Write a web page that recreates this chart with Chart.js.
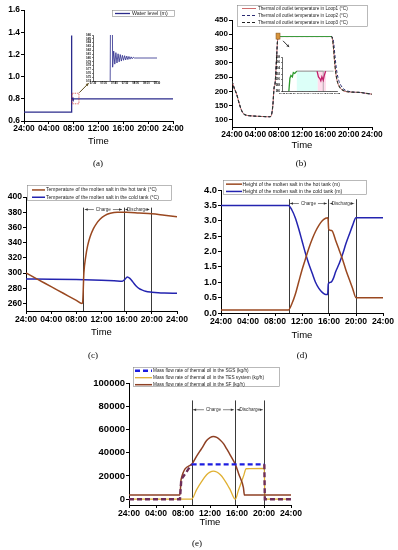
<!DOCTYPE html>
<html><head><meta charset="utf-8">
<script src="https://cdn.jsdelivr.net/npm/chart.js@4.4.0/dist/chart.umd.min.js"></script>
<style>
html,body{margin:0;padding:0;background:#fff;width:398px;height:550px;overflow:hidden;position:relative}
canvas{position:absolute;left:0;top:0}
.cap{position:absolute;font-family:"Liberation Serif","DejaVu Serif",serif;font-size:9px;color:#000;transform:translate(-50%,-50%);white-space:nowrap}
</style></head><body>
<canvas id="ca" width="398" height="550"></canvas>
<canvas id="cb" width="398" height="550"></canvas>
<canvas id="cc" width="398" height="550"></canvas>
<canvas id="cd" width="398" height="550"></canvas>
<canvas id="ce" width="398" height="550"></canvas>
<canvas id="cai" width="398" height="550"></canvas>
<canvas id="cbi" width="398" height="550"></canvas>
<div class="cap" style="left:98px;top:163px">(a)</div>
<div class="cap" style="left:301px;top:163px">(b)</div>
<div class="cap" style="left:93px;top:355px">(c)</div>
<div class="cap" style="left:302px;top:355px">(d)</div>
<div class="cap" style="left:197px;top:543px">(e)</div>
<script>
// ---------------- DATA ----------------
const timeTickValues = [0, 4, 8, 12, 16, 20, 24];
const timeTickLabels = ['24:00', '04:00', '08:00', '12:00', '16:00', '20:00', '24:00'];

// (a) water level
const aSeriesName = 'Water level (m)';
const aHours = [0, 7.6, 7.62, 7.64, 7.657, 7.674, 7.691, 7.708, 7.725, 7.742, 7.759, 7.776, 7.793, 7.81, 7.827, 7.844, 7.861, 7.878, 7.895, 7.912, 7.929, 7.946, 7.963, 7.98, 24];
const aWaterLevel = [0.68, 0.68, 1.37, 0.776, 0.818, 0.784, 0.814, 0.787, 0.811, 0.790, 0.809, 0.792, 0.807, 0.794, 0.806, 0.795, 0.805, 0.796, 0.804, 0.797, 0.803, 0.798, 0.802, 0.80, 0.80];
const aYTicks = [0.6, 0.8, 1.0, 1.2, 1.4, 1.6];
const aInsetXTicks = [7.3333, 7.5, 7.6667, 7.8333, 8.0, 8.1667, 8.3333];
const aInsetXLabels = ['07:20', '07:30', '07:40', '07:50', '08:00', '08:10', '08:20'];
const aInsetYTicks = [0.74, 0.75, 0.76, 0.77, 0.78, 0.79, 0.80, 0.81, 0.82, 0.83, 0.84, 0.85, 0.86];

// (b) thermal oil outlet temperature
const bSeriesNames = ['Thermal oil outlet temperature in Loop1 (°C)', 'Thermal oil outlet temperature in Loop2 (°C)', 'Thermal oil outlet temperature in Loop3 (°C)'];
const bHours = [0, 0.4, 0.8, 1.2, 1.6, 2.0, 2.5, 3, 4, 5, 6, 6.5, 6.75, 7.0, 7.2, 7.4, 7.6, 7.8, 8.0, 12, 17.0, 17.2, 17.4, 17.6, 17.8, 18.0, 18.3, 18.7, 19.2, 20, 21, 22, 23, 24];
const bLoop1 = [236, 210, 190, 160, 135, 121, 116, 114.5, 113, 112, 111, 111, 116, 150, 210, 230, 300, 375, 392, 392, 392, 385, 350, 300, 262, 238, 220, 208, 201, 198, 197, 196, 193, 190];
const bLoop2 = [236, 210, 190, 160, 135, 121, 116, 114.5, 113, 112, 111, 111, 117, 152, 208, 232, 302, 376, 392, 392, 392, 390, 375, 335, 295, 265, 238, 220, 207, 200, 197, 196, 193, 190];
const bLoop3 = [236, 210, 190, 160, 135, 121, 116, 114.5, 113, 112, 111, 111, 116, 150, 210, 230, 300, 375, 392, 392, 392, 386, 352, 302, 264, 240, 221, 209, 202, 198, 197, 196, 193, 190];
const bYTicks = [100, 150, 200, 250, 300, 350, 400, 450];
const bInsetMinutes1 = [468, 468, 460.3, 471];
const bInsetLoop1 = [386, 393, 393, 393];
const bInsetMinutes2 = [466.2, 466.6, 467.0, 467.3, 467.6, 468.0, 468.3, 468.7];
const bInsetLoop2 = [393, 391, 390.4, 389.6, 391, 389.8, 391.5, 393];
const bInsetMinutes3 = [458.0, 458.3, 458.6, 459.0, 459.3, 459.7, 460.3];
const bInsetLoop3 = [386, 390.5, 391.5, 391, 392.5, 392.2, 393];
const bInsetXTicks = [456, 458, 460, 462, 464, 466, 468, 470, 472];
const bInsetXLabels = ['07:36', '07:38', '07:40', '07:42', '07:44', '07:46', '07:48', '07:50', '07:52'];
const bInsetYTicks = [386, 388, 390, 392, 394, 396, 398];

// (c) molten salt temperature
const cSeriesNames = ['Temperature of the molten salt in the hot tank (°C)', 'Temperature of the molten salt in the cold tank (°C)'];
const cHotHours = [0, 2, 4, 6, 8, 8.9, 9.0, 9.2, 9.5, 9.8, 10.2, 10.7, 11.2, 11.8, 12.5, 13.4, 14.5, 16, 18, 20, 22, 24];
const cHotTemp = [300, 291, 282, 273, 264, 260, 261, 300, 322, 336, 348, 358, 365, 371, 375.5, 378.5, 380, 380, 379, 378, 376, 374];
const cColdHours = [0, 4, 8, 12, 14, 15.3, 15.7, 16.1, 16.5, 17, 17.5, 18, 18.5, 19, 20, 21, 22, 24];
const cColdTemp = [292, 291.8, 291.3, 290.5, 289.8, 289.2, 291.5, 294.8, 293, 288, 283, 279.5, 277.5, 276, 274.8, 274, 273.6, 273.3];
const cYTicks = [260, 280, 300, 320, 340, 360, 380, 400];
const cPhaseBounds = [9.1, 15.5, 19.9];

// (d) molten salt height
const dSeriesNames = ['Height of the molten salt in the hot tank (m)', 'Height of the molten salt in the cold tank (m)'];
const dHotHours = [0, 10, 10.5, 11, 11.5, 12, 12.5, 13, 13.5, 14, 14.5, 15, 15.5, 15.85, 15.95, 16.4, 17, 17.5, 18, 18.5, 19, 19.5, 20, 24];
const dHotHeight = [0.1, 0.1, 0.3, 0.6, 1.0, 1.4, 1.75, 2.1, 2.4, 2.65, 2.85, 3.0, 3.08, 3.1, 2.72, 2.68, 2.35, 2.05, 1.75, 1.4, 1.1, 0.8, 0.5, 0.5];
const dColdHours = [0, 10, 10.5, 11, 11.5, 12, 12.5, 13, 13.5, 14, 14.5, 15, 15.5, 15.8, 15.9, 16.3, 16.6, 17, 17.5, 18, 18.5, 19, 19.5, 20, 24];
const dColdHeight = [3.5, 3.5, 3.35, 3.1, 2.75, 2.35, 1.95, 1.6, 1.3, 1.0, 0.8, 0.67, 0.6, 0.6, 0.95, 1.0, 1.1, 1.35, 1.6, 1.9, 2.25, 2.55, 2.85, 3.1, 3.1];
const dYTicks = [0, 0.5, 1.0, 1.5, 2.0, 2.5, 3.0, 3.5, 4.0];
const dPhaseBounds = [10, 15.9, 19.95];

// (e) mass flow rate
const eSeriesNames = ['Mass flow rate of thermal oil in the SGS (kg/h)', 'Mass flow rate of thermal oil in the TES system (kg/h)', 'Mass flow rate of thermal oil in the SF (kg/h)'];
const eSGSHours = [0, 7.55, 7.75, 9.28, 20.05, 20.12, 24];
const eSGS = [0, 0, 17000, 30000, 30000, 0, 0];
const eTESHours = [0, 9.28, 10, 10.8, 11.5, 12, 12.5, 13, 13.5, 14, 14.5, 15, 15.75, 16.2, 16.6, 17.0, 17.35, 20.05, 20.12, 24];
const eTES = [0, 0, 8000, 15500, 21000, 23300, 24200, 23400, 21200, 17800, 13200, 8000, 0, 7500, 14000, 20500, 26200, 26500, 0, 0];
const eSFHours = [0, 7.55, 7.72, 9.28, 10, 10.8, 11.5, 12, 12.5, 13, 13.5, 14, 14.5, 15, 15.75, 16.3, 16.95, 17.1, 24];
const eSF = [3500, 3500, 17000, 30000, 36800, 44000, 50500, 53000, 54000, 53200, 51000, 47800, 43000, 38000, 30000, 21000, 10000, 3500, 3500];
const eYTicks = [0, 20000, 40000, 60000, 80000, 100000];
const ePhaseBounds = [9.28, 15.75, 20.05];

const phaseLabels = ['Charge', 'Discharge'];

// ---------------- RENDERING ----------------
const FONT = '"Liberation Sans", Arial, Helvetica, sans-serif';
const PW = 398, PH = 550;
const pts = (xs, ys) => xs.map((x, i) => ({x: x, y: ys[i]}));
const DECOR = {};

const decor = {
  id: 'decor',
  beforeDatasetsDraw(chart) {
    const o = DECOR[chart.canvas.id] || {};
    const ctx = chart.ctx, xs = chart.scales.x, ys = chart.scales.y;
    (o.fills || []).forEach(f => {
      const x0 = xs.getPixelForValue(f.x0), x1 = xs.getPixelForValue(f.x1);
      const y0 = ys.getPixelForValue(f.y0), y1 = ys.getPixelForValue(f.y1);
      ctx.save(); ctx.fillStyle = f.color;
      ctx.fillRect(Math.min(x0, x1), Math.min(y0, y1), Math.abs(x1 - x0), Math.abs(y1 - y0));
      ctx.restore();
    });
    if (o.vlines) {
      ctx.save(); ctx.strokeStyle = '#3a3a3a'; ctx.lineWidth = 1;
      o.vlines.forEach(v => {
        const x = Math.round(xs.getPixelForValue(v)) + 0.5;
        ctx.beginPath(); ctx.moveTo(x, ys.getPixelForValue(o.vlineTop)); ctx.lineTo(x, chart.chartArea.bottom); ctx.stroke();
      });
      ctx.restore();
    }
  },
  afterDatasetsDraw(chart) {
    const o = DECOR[chart.canvas.id] || {};
    const ctx = chart.ctx, xs = chart.scales.x, ys = chart.scales.y;
    if (o.phases) {
      const y = ys.getPixelForValue(o.phaseY);
      ctx.save();
      ctx.font = (o.phaseFont || 4.5) + 'px ' + FONT;
      ctx.textAlign = 'center'; ctx.textBaseline = 'middle';
      ctx.fillStyle = '#333'; ctx.strokeStyle = '#333'; ctx.lineWidth = 0.6;
      o.phases.forEach(p => {
        const x0 = xs.getPixelForValue(p.from) + 1.5, x1 = xs.getPixelForValue(p.to) - 1.5;
        const mid = (x0 + x1) / 2, tw = ctx.measureText(p.text).width;
        ctx.fillText(p.text, mid, y);
        ctx.beginPath();
        ctx.moveTo(x0, y); ctx.lineTo(mid - tw / 2 - 2, y);
        ctx.moveTo(mid + tw / 2 + 2, y); ctx.lineTo(x1, y);
        ctx.stroke();
        ctx.beginPath();
        ctx.moveTo(x0, y); ctx.lineTo(x0 + 3, y - 1.3); ctx.lineTo(x0 + 3, y + 1.3); ctx.closePath();
        ctx.moveTo(x1, y); ctx.lineTo(x1 - 3, y - 1.3); ctx.lineTo(x1 - 3, y + 1.3); ctx.closePath();
        ctx.fill();
      });
      ctx.restore();
    }
    (o.rects || []).forEach(r => {
      const x0 = xs.getPixelForValue(r.x0), x1 = xs.getPixelForValue(r.x1);
      const y0 = ys.getPixelForValue(r.y0), y1 = ys.getPixelForValue(r.y1);
      ctx.save();
      if (r.fill) { ctx.fillStyle = r.fill; ctx.fillRect(Math.min(x0, x1), Math.min(y0, y1), Math.abs(x1 - x0), Math.abs(y1 - y0)); }
      ctx.strokeStyle = r.color; ctx.lineWidth = r.width || 0.8; ctx.setLineDash(r.dash || []);
      ctx.strokeRect(Math.min(x0, x1), Math.min(y0, y1), Math.abs(x1 - x0), Math.abs(y1 - y0));
      ctx.restore();
    });
    (o.arrows || []).forEach(a => {
      const x0 = xs.getPixelForValue(a.x0), x1 = xs.getPixelForValue(a.x1);
      const y0 = ys.getPixelForValue(a.y0), y1 = ys.getPixelForValue(a.y1);
      const ang = Math.atan2(y1 - y0, x1 - x0);
      ctx.save(); ctx.strokeStyle = a.color; ctx.fillStyle = a.color; ctx.lineWidth = 1;
      ctx.beginPath(); ctx.moveTo(x0, y0); ctx.lineTo(x1, y1); ctx.stroke();
      ctx.beginPath(); ctx.moveTo(x1, y1);
      ctx.lineTo(x1 - 3 * Math.cos(ang - 0.5), y1 - 3 * Math.sin(ang - 0.5));
      ctx.lineTo(x1 - 3 * Math.cos(ang + 0.5), y1 - 3 * Math.sin(ang + 0.5));
      ctx.closePath(); ctx.fill();
      ctx.restore();
    });
  },
  afterDraw(chart) {
    const o = DECOR[chart.canvas.id] || {};
    const L = o.legend; if (!L) return;
    const ctx = chart.ctx;
    const items = chart.data.datasets.filter(d => d.label).sort((a, b) => a.legendIndex - b.legendIndex);
    ctx.save();
    ctx.fillStyle = '#fff'; ctx.fillRect(L.x, L.y, L.w, L.h);
    ctx.strokeStyle = '#8a8a8a'; ctx.lineWidth = 0.6; ctx.strokeRect(L.x + 0.5, L.y + 0.5, L.w - 1, L.h - 1);
    ctx.font = L.size + 'px ' + FONT; ctx.textBaseline = 'middle'; ctx.textAlign = 'left';
    items.forEach((d, i) => {
      const y = L.y + L.pad + L.rowH * (i + 0.5);
      ctx.strokeStyle = d.legendColor || d.borderColor; ctx.lineWidth = d.legendWidth || d.borderWidth;
      ctx.setLineDash(d.legendDash || d.borderDash || []);
      ctx.beginPath(); ctx.moveTo(L.x + L.s0, y); ctx.lineTo(L.x + L.s1, y); ctx.stroke();
      ctx.setLineDash([]);
      ctx.fillStyle = '#222'; ctx.fillText(d.label, L.x + L.tx, y);
    });
    ctx.restore();
  }
};

function makeChart(id, c) {
  const p = c.plot;
  DECOR[id] = c.decor || {};
  const tickFont = (s) => ({family: FONT, size: s, weight: 'bold'});
  const grid = {display: true, drawOnChartArea: false, drawTicks: true, tickLength: c.tickLen || 3, color: '#000', lineWidth: c.gridW || 1};
  return new Chart(document.getElementById(id), {
    type: 'line',
    data: {datasets: c.datasets},
    options: {
      responsive: false, animation: false, events: [], devicePixelRatio: 1,
      layout: {padding: {left: p.l - p.yW, top: p.t, right: PW - p.r, bottom: PH - p.b - p.xH}},
      elements: {point: {radius: 0}, line: {fill: false}},
      plugins: {legend: {display: false}, tooltip: {enabled: false}, title: {display: false}},
      scales: {
        x: {
          type: 'linear', min: c.xmin, max: c.xmax,
          afterBuildTicks: s => { s.ticks = c.xticks.map(v => ({value: v})); },
          afterFit: s => { s.height = p.xH; },
          ticks: {autoSkip: false, maxRotation: 0, minRotation: 0, padding: c.xPad == null ? 0 : c.xPad, color: '#000',
                  font: tickFont(c.fx), callback: (v, i) => c.xlabels[i]},
          grid: grid,
          border: {display: true, color: '#000', width: c.borderW || 1},
          title: {display: !!c.title, text: c.title || '', color: '#000', font: {family: FONT, size: 9.5}, padding: {top: 0, bottom: 0}}
        },
        y: {
          type: 'linear', min: c.ymin, max: c.ymax,
          afterBuildTicks: s => { s.ticks = c.yticks.map(v => ({value: v})); },
          afterFit: s => { s.width = p.yW; },
          ticks: {autoSkip: false, padding: c.yPad == null ? 1 : c.yPad, color: '#000', font: tickFont(c.fy),
                  callback: (v) => c.yfmt ? c.yfmt(v) : String(v)},
          grid: grid,
          border: {display: true, color: '#000', width: c.borderW || 1}
        }
      }
    },
    plugins: [decor]
  });
}

// (a)
makeChart('ca', {
  plot: {l: 24, t: 10, r: 173, b: 121, yW: 24, xH: 26},
  xmin: 0, xmax: 24, xticks: timeTickValues, xlabels: timeTickLabels, fx: 8.4,
  ymin: 0.6, ymax: 1.6, yticks: aYTicks, fy: 8.4, yfmt: v => v.toFixed(1), title: 'Time',
  datasets: [{label: aSeriesName, legendIndex: 0, data: pts(aHours, aWaterLevel), borderColor: '#2b2b8c', borderWidth: 1.3, tension: 0}],
  decor: {
    legend: {x: 112, y: 10, w: 63, h: 7, size: 5.3, pad: 0, rowH: 7, s0: 3, s1: 18, tx: 20},
    rects: [{x0: 7.75, x1: 8.85, y0: 0.755, y1: 0.85, color: '#d03030', dash: [1.5, 1], width: 0.7}],
    arrows: [{x0: 8.9, y0: 0.855, x1: 10.4, y1: 0.94, color: '#5a4a1a'}]
  }
});
// (a) inset
makeChart('cai', {
  plot: {l: 93, t: 35, r: 157, b: 81, yW: 12, xH: 6},
  xmin: 7.3333, xmax: 8.3333, xticks: aInsetXTicks, xlabels: aInsetXLabels, fx: 2.6, tickLen: 1, gridW: 0.5, borderW: 0.6,
  ymin: 0.74, ymax: 0.86, yticks: aInsetYTicks, fy: 2.6, yfmt: v => v.toFixed(2),
  datasets: [{data: pts(aHours, aWaterLevel), borderColor: '#2b2b8c', borderWidth: 0.8, tension: 0}]
});

// (b)
makeChart('cb', {
  plot: {l: 232, t: 20, r: 372, b: 127, yW: 32, xH: 24},
  xmin: 0, xmax: 24, xticks: timeTickValues, xlabels: timeTickLabels, fx: 8.4,
  ymin: 75, ymax: 450, yticks: bYTicks, fy: 8, title: 'Time',
  datasets: [
    {label: bSeriesNames[0], legendIndex: 0, order: 2, data: pts(bHours, bLoop1), borderColor: '#c24848', borderWidth: 0.8, cubicInterpolationMode: 'monotone'},
    {label: bSeriesNames[1], legendIndex: 1, order: 1, data: pts(bHours, bLoop2), borderColor: '#2a2a72', borderWidth: 1, borderDash: [3, 2], cubicInterpolationMode: 'monotone'},
    {label: bSeriesNames[2], legendIndex: 2, order: 0, data: pts(bHours, bLoop3), borderColor: '#2c3a2c', borderWidth: 1.1, borderDash: [3, 2], legendColor: '#222', cubicInterpolationMode: 'monotone',
     segment: {borderColor: s => (s.p0.parsed.y >= 390 && s.p1.parsed.y >= 390) ? '#3d9b3d' : undefined,
               borderDash: s => (s.p0.parsed.y >= 390 && s.p1.parsed.y >= 390) ? [] : undefined}}
  ],
  decor: {
    legend: {x: 237, y: 5, w: 131, h: 22, size: 4.6, pad: 0, rowH: 7, s0: 5, s1: 19, tx: 21},
    rects: [{x0: 7.55, x1: 8.23, y0: 383, y1: 404, color: '#8a5a20', fill: '#d8943c', width: 0.6}],
    arrows: [{x0: 8.75, y0: 377, x1: 9.8, y1: 355, color: '#333'}]
  }
});
// (b) inset
makeChart('cbi', {
  plot: {l: 282, t: 57, r: 337, b: 91, yW: 10, xH: 5},
  xmin: 456, xmax: 472, xticks: bInsetXTicks, xlabels: bInsetXLabels, fx: 2.4, tickLen: 1, gridW: 0.5, borderW: 0.6,
  ymin: 386, ymax: 398, yticks: bInsetYTicks, fy: 2.6,
  datasets: [
    {data: pts(bInsetMinutes1, bInsetLoop1), borderColor: '#a0a0a0', borderWidth: 0.8, tension: 0, order: 3},
    {data: pts(bInsetMinutes2, bInsetLoop2), borderColor: '#c0206a', borderWidth: 1.3, tension: 0, order: 1},
    {data: pts(bInsetMinutes3, bInsetLoop3), borderColor: '#2e9a2e', borderWidth: 1.3, tension: 0, order: 0}
  ],
  decor: {
    fills: [{x0: 460.3, x1: 466.4, y0: 386, y1: 393, color: 'rgba(205,255,245,0.7)'},
            {x0: 466.4, x1: 468.8, y0: 386, y1: 393, color: 'rgba(255,205,228,0.7)'}]
  }
});

// (c)
makeChart('cc', {
  plot: {l: 26, t: 197, r: 177, b: 311, yW: 26, xH: 27},
  xmin: 0, xmax: 24, xticks: timeTickValues, xlabels: timeTickLabels, fx: 8.6,
  ymin: 250, ymax: 400, yticks: cYTicks, fy: 8.6, title: 'Time',
  datasets: [
    {label: cSeriesNames[0], legendIndex: 0, data: pts(cHotHours, cHotTemp), borderColor: '#9a4820', borderWidth: 1.5, cubicInterpolationMode: 'monotone'},
    {label: cSeriesNames[1], legendIndex: 1, data: pts(cColdHours, cColdTemp), borderColor: '#2424b0', borderWidth: 1.5, cubicInterpolationMode: 'monotone'}
  ],
  decor: {
    legend: {x: 27, y: 185, w: 145, h: 16, size: 5, pad: 1.3, rowH: 7.3, s0: 5, s1: 18, tx: 19},
    vlines: cPhaseBounds, vlineTop: 386,
    phases: [{from: cPhaseBounds[0], to: cPhaseBounds[1], text: phaseLabels[0]}, {from: cPhaseBounds[1], to: cPhaseBounds[2], text: phaseLabels[1]}],
    phaseY: 383.5, phaseFont: 4.6
  }
});

// (d)
makeChart('cd', {
  plot: {l: 221, t: 190, r: 383, b: 313, yW: 21, xH: 28},
  xmin: 0, xmax: 24, xticks: timeTickValues, xlabels: timeTickLabels, fx: 8.6,
  ymin: 0, ymax: 4, yticks: dYTicks, fy: 9.4, yfmt: v => v.toFixed(1), title: 'Time',
  datasets: [
    {label: dSeriesNames[0], legendIndex: 0, data: pts(dHotHours, dHotHeight), borderColor: '#9a4820', borderWidth: 1.5, cubicInterpolationMode: 'monotone'},
    {label: dSeriesNames[1], legendIndex: 1, data: pts(dColdHours, dColdHeight), borderColor: '#2424b0', borderWidth: 1.5, cubicInterpolationMode: 'monotone'}
  ],
  decor: {
    legend: {x: 223, y: 180, w: 144, h: 15, size: 5.1, pad: 0.5, rowH: 7.3, s0: 3, s1: 19, tx: 19.5},
    vlines: dPhaseBounds, vlineTop: 3.7,
    phases: [{from: dPhaseBounds[0], to: dPhaseBounds[1], text: phaseLabels[0]}, {from: dPhaseBounds[1], to: dPhaseBounds[2], text: phaseLabels[1]}],
    phaseY: 3.56, phaseFont: 4.6
  }
});

// (e)
makeChart('ce', {
  plot: {l: 129, t: 383, r: 291, b: 505, yW: 49, xH: 23},
  xmin: 0, xmax: 24, xticks: timeTickValues, xlabels: timeTickLabels, fx: 8.6,
  ymin: -5000, ymax: 100000, yticks: eYTicks, fy: 9.5, title: 'Time',
  datasets: [
    {label: eSeriesNames[0], legendIndex: 0, order: 0, data: pts(eSGSHours, eSGS), borderColor: '#1c1ce0', borderWidth: 2.4, borderDash: [5, 3], tension: 0,
     segment: {borderColor: s => (s.p0.parsed.y === 30000 && s.p1.parsed.y === 30000) ? undefined : '#6e2e58'}},
    {label: eSeriesNames[1], legendIndex: 1, order: 2, data: pts(eTESHours, eTES), borderColor: '#e0b032', borderWidth: 1.3, cubicInterpolationMode: 'monotone'},
    {label: eSeriesNames[2], legendIndex: 2, order: 1, data: pts(eSFHours, eSF), borderColor: '#8e4024', borderWidth: 1.5, cubicInterpolationMode: 'monotone'}
  ],
  decor: {
    legend: {x: 133, y: 367, w: 147, h: 20, size: 4.7, pad: 0.2, rowH: 7, s0: 2, s1: 19, tx: 20},
    vlines: ePhaseBounds, vlineTop: 85000,
    phases: [{from: ePhaseBounds[0], to: ePhaseBounds[1], text: phaseLabels[0]}, {from: ePhaseBounds[1], to: ePhaseBounds[2], text: phaseLabels[1]}],
    phaseY: 77000, phaseFont: 4.6
  }
});
</script>
</body></html>
